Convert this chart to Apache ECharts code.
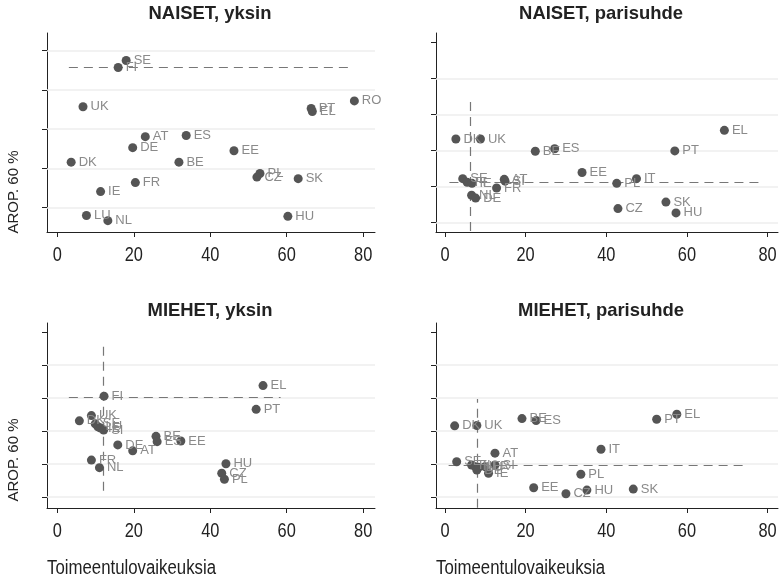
<!DOCTYPE html>
<html><head><meta charset="utf-8">
<script src="https://cdn.jsdelivr.net/npm/echarts@6/dist/echarts.min.js"></script>
<style>html,body{margin:0;padding:0;background:#fff}#c{width:781px;height:578px}</style>
</head><body><div id="c"></div>
<script>
const panelTitles = ['NAISET, yksin', 'NAISET, parisuhde', 'MIEHET, yksin', 'MIEHET, parisuhde'];
const yAxisTitle = 'AROP. 60 %';
const xAxisTitle = 'Toimeentulovaikeuksia';
const xTicks = [0, 20, 40, 60, 80];
const yTicksP1 = [10, 20, 30, 40, 50];
const yTicksOther = [10, 20, 30, 40, 50, 60];
const gridValsP1 = [10, 20, 30, 40, 50];
const gridValsOther = [10, 20, 30, 40, 50];

// NAISET, yksin
const p1Names = ['SE','FI','UK','RO','PT','EL','AT','ES','DE','EE','DK','BE','PL','CZ','SK','FR','IE','LU','NL','HU'];
const p1X = [18.0,15.9,6.7,77.7,66.4,66.7,23.0,33.7,19.7,46.2,3.6,31.8,53.0,52.2,63.0,20.4,11.3,7.6,13.2,60.3];
const p1Y = [47.5,45.7,35.7,37.2,35.3,34.5,28.1,28.4,25.3,24.5,21.6,21.6,18.7,17.8,17.4,16.4,14.1,8.0,6.7,7.8];

// NAISET, parisuhde
const p2Names = ['DK','UK','EL','BE','ES','PT','EE','SE','FI','IE','NL','DE','FR','AT','SI','PL','IT','CZ','SK','HU'];
const p2X = [2.7,8.8,69.3,22.4,27.2,57.0,34.0,4.4,5.5,6.7,6.6,7.6,12.8,14.7,14.9,42.6,47.5,42.9,54.8,57.3];
const p2Y = [33.2,33.2,35.6,29.8,30.5,29.9,23.9,22.2,21.2,20.9,17.6,16.8,19.6,22.0,21.5,20.9,22.2,13.9,15.7,12.7];

// MIEHET, yksin
const p3Names = ['EL','FI','PT','UK','DK','SE','LU','IE','SI','BE','ES','EE','DE','AT','FR','NL','HU','CZ','PL'];
const p3X = [53.8,12.2,52.0,8.9,5.75,9.9,10.6,11.3,12.1,25.8,26.1,32.3,15.8,19.7,8.9,11.0,44.1,43.0,43.7];
const p3Y = [43.8,40.6,36.6,34.7,33.1,32.2,31.3,30.9,30.3,28.4,26.8,27.0,25.8,24.0,21.2,18.9,20.1,17.2,15.4];

// MIEHET, parisuhde
const p4Names = ['EL','PT','BE','ES','DK','UK','IT','AT','SE','FI','NL','LU','DE','FR','SI','IE','PL','EE','HU','CZ','SK'];
const p4X = [57.5,52.5,19.1,22.6,2.4,7.9,38.7,12.4,2.9,6.6,7.5,8.3,7.9,9.9,12.4,10.8,33.7,22.0,35.2,30.0,46.7];
const p4Y = [35.1,33.6,33.8,33.2,31.6,31.7,24.5,23.3,20.7,19.7,19.2,19.0,18.2,19.2,19.7,17.2,16.9,12.8,12.1,11.0,12.4];

// dashed reference (average) lines per panel
const refMeanX = [16.3, 6.2, 12.1, 8.0];
const refVTop = [51.7, 43.5, 57.1, 39.7];
const refVBottom = [3.8, 7.7, 11.9, 6.7];
const refMeanY = [45.9, 21.1, 40.4, 19.6];
const refHStart = [3.0, 1.1, 3.0, 0.9];
const refHEnd = [76.7, 78.0, 58.4, 74.4];

const panels = [
  {names: p1Names, xs: p1X, ys: p1Y, yTicks: yTicksP1, grids: gridValsP1},
  {names: p2Names, xs: p2X, ys: p2Y, yTicks: yTicksOther, grids: gridValsOther},
  {names: p3Names, xs: p3X, ys: p3Y, yTicks: yTicksOther, grids: gridValsOther},
  {names: p4Names, xs: p4X, ys: p4Y, yTicks: yTicksOther, grids: gridValsOther}
];

const layout = [
  {left: 47, top: 33, width: 328, height: 199, xmin: -2.72, xmax: 83.1, ymin: 3.81, ymax: 54.5},
  {left: 436, top: 33, width: 342, height: 199, xmin: -2.23, xmax: 82.6, ymin: 7.4, ymax: 62.6},
  {left: 47, top: 323, width: 328, height: 185, xmin: -2.72, xmax: 83.1, ymin: 6.66, ymax: 62.8},
  {left: 436, top: 323, width: 342, height: 185, xmin: -2.23, xmax: 82.6, ymin: 6.66, ymax: 62.8}
];

const plain = '"Liberation Sans",Arial,sans-serif';

const grid = [], xAxis = [], yAxis = [], series = [];
layout.forEach((L, i) => {
  grid.push({left: L.left, top: L.top, width: L.width, height: L.height});
  xAxis.push({
    type: 'value', gridIndex: i, min: L.xmin, max: L.xmax,
    axisLine: {show: true, onZero: false, lineStyle: {color: '#222', width: 1}},
    axisTick: {show: true, length: 5, customValues: xTicks, lineStyle: {color: '#222'}},
    axisLabel: {show: false},
    splitLine: {show: false}
  });
  const P = panels[i];
  yAxis.push({
    type: 'value', gridIndex: i, min: L.ymin, max: L.ymax,
    axisLine: {show: true, onZero: false, lineStyle: {color: '#222', width: 1}},
    axisTick: {show: true, length: 5, customValues: P.yTicks, lineStyle: {color: '#222'}},
    axisLabel: {show: false},
    splitLine: {show: false}
  });
  series.push({
    type: 'line', xAxisIndex: i, yAxisIndex: i, data: [], silent: true, z: 1,
    markLine: {
      silent: true, symbol: 'none', z: 1, animation: false,
      label: {show: false},
      lineStyle: {color: '#eeeeee', width: 1.5, type: 'solid'},
      data: P.grids.map(v => ({yAxis: v}))
    }
  });
  series.push({
    type: 'line', xAxisIndex: i, yAxisIndex: i, data: [], silent: true, z: 2,
    markLine: {
      silent: true, symbol: 'none', z: 2, animation: false,
      label: {show: false},
      lineStyle: {color: '#777', width: 1.2, type: [9, 6]},
      data: [
        [{coord: [refMeanX[i], refVBottom[i]]}, {coord: [refMeanX[i], refVTop[i]]}],
        [{coord: [refHStart[i], refMeanY[i]]}, {coord: [refHEnd[i], refMeanY[i]]}]
      ]
    }
  });
  series.push({
    type: 'scatter', xAxisIndex: i, yAxisIndex: i, z: 10,
    symbol: 'circle', symbolSize: 9,
    itemStyle: {color: '#555555', opacity: 1},
    label: {show: true, position: 'right', distance: 3, formatter: p => p.data[2],
            color: '#8a8a8a', fontSize: 13, fontFamily: plain},
    labelLayout: {hideOverlap: false},
    data: P.xs.map((x, k) => [x, P.ys[k], P.names[k]]),
    animation: false
  });
});

const chart = echarts.init(document.getElementById('c'), null, {renderer: 'canvas'});
chart.setOption({animation: false, backgroundColor: '#fff', grid, xAxis, yAxis, series});

const graphic = [];
const titleCenters = [[210, 14], [601, 14], [210, 311], [601, 311]];
titleCenters.forEach((c, i) => {
  graphic.push({type: 'text', x: c[0], y: c[1], scaleX: 0.97,
    style: {text: panelTitles[i], fill: '#222', font: 'bold 19px ' + plain, textAlign: 'center', textVerticalAlign: 'middle'}});
});
[[14, 192], [14, 460]].forEach(c => {
  graphic.push({type: 'text', x: c[0], y: c[1], rotation: Math.PI / 2,
    style: {text: yAxisTitle, fill: '#222', font: '15px ' + plain, textAlign: 'center', textVerticalAlign: 'middle'}});
});
[[47, 568], [436, 568]].forEach(c => {
  graphic.push({type: 'text', x: c[0], y: c[1], scaleX: 0.84,
    style: {text: xAxisTitle, fill: '#222', font: '20px ' + plain, textAlign: 'left', textVerticalAlign: 'middle'}});
});
// x tick labels, placed via the axis scale
layout.forEach((L, i) => {
  xTicks.forEach(t => {
    const pt = chart.convertToPixel({gridIndex: i}, [t, L.ymin]);
    graphic.push({type: 'text', x: pt[0], y: pt[1] + 23, scaleX: 0.78,
      style: {text: String(t), fill: '#222', font: '21px ' + plain, textAlign: 'center', textVerticalAlign: 'middle'}});
  });
});
chart.setOption({graphic});
</script></body></html>
